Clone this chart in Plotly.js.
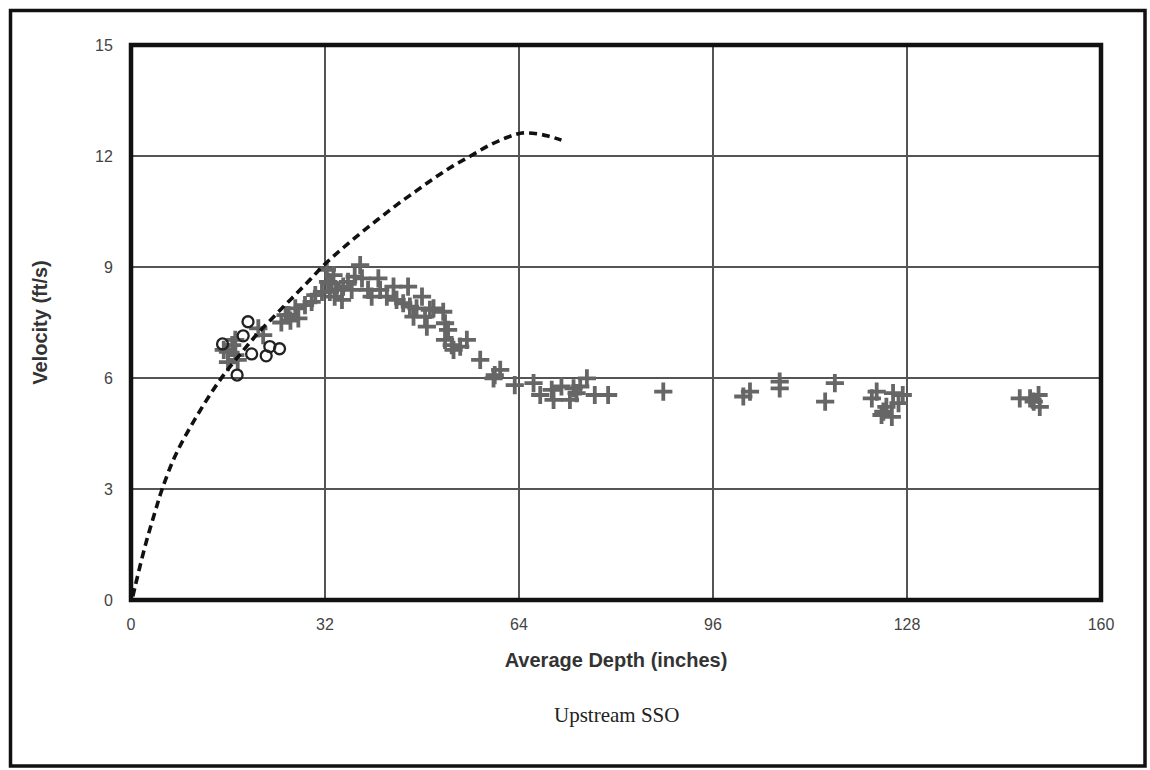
<!DOCTYPE html>
<html>
<head>
<meta charset="utf-8">
<script src="https://cdn.plot.ly/plotly-3.0.1.min.js"></script>
<style>
html,body{margin:0;padding:0;background:#fff;}
#chart{width:1150px;height:770px;}
</style>
</head>
<body>
<div id="chart"></div>
<script>
// Dashed curve (theoretical)
const curveDepth = [0.3, 0.7, 2.3, 4.0, 5.1, 7.3, 10.6, 14.7, 18.8, 21.0, 23.8, 26.5, 29.2, 32.0, 35.0, 38.0, 41.0, 44.0, 47.0, 50.0, 53.0, 56.0, 59.0, 62.0, 64.5, 67.0, 69.0, 71.0];
const curveVel   = [0.1, 0.38, 1.44, 2.4, 2.98, 3.9, 4.9, 5.95, 6.8, 7.22, 7.7, 8.15, 8.6, 9.08, 9.52, 9.93, 10.32, 10.7, 11.05, 11.4, 11.72, 12.0, 12.28, 12.5, 12.62, 12.6, 12.53, 12.43];

// Open circles
const circDepth = [15.1, 17.5, 18.5, 19.3, 19.9, 22.3, 22.9, 24.5];
const circVel   = [6.92, 6.08, 7.14, 7.52, 6.65, 6.6, 6.85, 6.79];

// Crosses
const crossDepth = [15.3, 16.0, 16.0, 16.7, 17.2, 17.6, 17.2, 21.0, 21.8, 24.8, 25.5, 26.3, 26.0, 27.1, 27.6, 28.7, 29.8, 30.4, 31.5, 32.5, 32.8,
  32.3, 33.4, 33.1, 33.9, 33.6, 34.8, 35.0, 35.8, 36.4, 36.9, 37.8, 38.1, 39.1, 39.7, 40.8, 41.1, 42.2, 43.3, 43.8, 44.9, 45.7, 46.0, 46.6, 47.1, 48.0, 48.5, 49.3, 48.8,
  49.9, 51.5, 51.8, 52.3, 51.8, 52.9, 53.2, 54.3, 55.4, 57.6, 59.8, 60.0, 60.9, 63.3,
  66.4, 67.5, 69.4, 69.7, 71.0, 72.4, 73.0, 73.5, 74.1, 75.2, 76.5, 78.7, 87.8,
  101.0, 102.1, 107.0, 107.0, 114.5, 116.1, 122.2, 123.0, 123.8, 124.6, 125.7, 126.6, 125.5, 127.3, 124.1,
  146.6, 148.3, 149.7, 149.9, 148.9];
const crossVel = [6.76, 6.43, 6.71, 6.89, 6.62, 6.49, 7.03, 7.34, 7.16, 7.5, 7.7, 7.55, 7.7, 7.88, 7.61, 7.97, 8.06, 8.24, 8.33, 8.6, 8.33,
  8.92, 8.78, 8.56, 8.38, 8.2, 8.11, 8.47, 8.6, 8.38, 8.74, 9.05, 8.69, 8.38, 8.2, 8.69, 8.38, 8.2, 8.47, 8.11, 8.02, 8.47, 7.93, 7.66, 7.88, 8.2, 7.66, 7.84, 7.39,
  7.88, 7.79, 7.48, 7.3, 7.03, 6.89, 6.76, 6.85, 7.03, 6.49, 5.99, 6.08, 6.22, 5.81,
  5.86, 5.54, 5.68, 5.41, 5.77, 5.41, 5.72, 5.59, 5.77, 5.99, 5.54, 5.54, 5.63,
  5.5, 5.63, 5.9, 5.72, 5.36, 5.86, 5.45, 5.63, 5.0, 5.22, 5.59, 5.32, 4.95, 5.54, 5.09,
  5.45, 5.45, 5.54, 5.22, 5.36];

const xTicks = [0, 32, 64, 96, 128, 160];
const yTicks = [0, 3, 6, 9, 12, 15];

const traces = [
  {
    x: crossDepth, y: crossVel, type: 'scatter', mode: 'markers',
    marker: {symbol: 'cross-thin', size: 13, line: {width: 3.8, color: '#666'}, color: '#666'}
  },
  {
    x: circDepth, y: circVel, type: 'scatter', mode: 'markers',
    marker: {symbol: 'circle-open', size: 11, line: {width: 2.3, color: '#222'}, color: '#222'}
  },
  {
    x: curveDepth, y: curveVel, type: 'scatter', mode: 'lines',
    line: {color: '#111', width: 3.6, dash: '8px,5px', shape: 'spline', smoothing: 1}
  }
];

const L = 131, R = 1101, T = 45, B = 600;
const pw = R - L, ph = B - T;
function px2x(p){ return (p - L) / pw; }
function px2y(p){ return (B - p) / ph; }

const layout = {
  width: 1150, height: 770,
  margin: {l: L, r: 1150 - R, t: T, b: 770 - B, pad: 0},
  paper_bgcolor: '#fff', plot_bgcolor: '#fff',
  showlegend: false,
  font: {family: 'Liberation Sans, Arial, sans-serif', color: '#333'},
  xaxis: {
    range: [0, 160], tickvals: xTicks, ticktext: xTicks.map(String),
    showgrid: true, gridcolor: '#555', gridwidth: 1.8,
    zeroline: false, showline: false,
    ticks: 'outside', ticklen: 10, tickcolor: 'rgba(0,0,0,0)',
    tickfont: {size: 16, color: '#444'},
    title: {text: 'Average Depth (inches)', font: {size: 20, color: '#333', family: 'Liberation Sans, Arial, sans-serif', weight: 'bold'}, standoff: 20}
  },
  yaxis: {
    range: [0, 15], tickvals: yTicks, ticktext: yTicks.map(String),
    showgrid: true, gridcolor: '#555', gridwidth: 1.8,
    zeroline: false, showline: false,
    ticks: 'outside', ticklen: 14, tickcolor: 'rgba(0,0,0,0)',
    tickfont: {size: 16, color: '#444'},
    title: {text: 'Velocity (ft/s)', font: {size: 20, color: '#333', family: 'Liberation Sans, Arial, sans-serif', weight: 'bold'}, standoff: 42}
  },
  shapes: [
    {type: 'rect', xref: 'paper', yref: 'paper', x0: 0, x1: 1, y0: 0, y1: 1, line: {color: '#111', width: 4.5}, layer: 'above'},
    {type: 'rect', xref: 'paper', yref: 'paper', x0: px2x(10.5), x1: px2x(1145), y0: px2y(766), y1: px2y(10.5), line: {color: '#111', width: 3.5}}
  ],
  annotations: [
    {text: 'Upstream SSO', xref: 'paper', yref: 'paper', x: px2x(616), y: px2y(715), showarrow: false,
     font: {family: 'Liberation Serif, Times New Roman, serif', size: 21, color: '#222'}, xanchor: 'center', yanchor: 'middle'}
  ]
};

Plotly.newPlot('chart', traces, layout, {displayModeBar: false, staticPlot: true});
</script>
</body>
</html>
